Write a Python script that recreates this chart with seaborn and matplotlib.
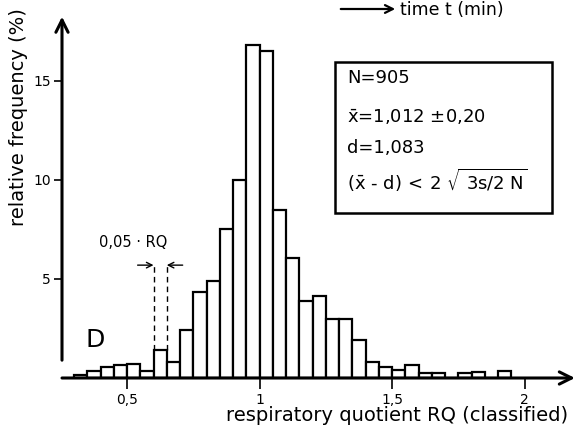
import numpy as np
import pandas as pd
import matplotlib
matplotlib.use("Agg")
import matplotlib.pyplot as plt
from matplotlib.patches import Rectangle, FancyArrowPatch
import seaborn as sns

# respiratory quotient classes (left edge of each 0.05 class) and relative frequency (%)
rq_left = [0.30, 0.35, 0.40, 0.45, 0.50, 0.55, 0.60, 0.65, 0.70, 0.75, 0.80,
           0.85, 0.90, 0.95, 1.00, 1.05, 1.10, 1.15, 1.20, 1.25, 1.30, 1.35,
           1.40, 1.45, 1.50, 1.55, 1.60, 1.65, 1.70, 1.75, 1.80, 1.85, 1.90]
rel_freq = [0.15, 0.35, 0.55, 0.68, 0.73, 0.35, 1.39, 0.80, 2.44, 4.35, 4.90,
            7.50, 10.0, 16.8, 16.5, 8.50, 6.04, 3.87, 4.16, 3.00, 3.00, 1.93,
            0.83, 0.54, 0.40, 0.66, 0.27, 0.24, 0.00, 0.27, 0.32, 0.00, 0.37]
class_width = 0.05

x_ticks = [0.5, 1, 1.5, 2]
x_ticklabels = ["0,5", "1", "1,5", "2"]
y_ticks = [5, 10, 15]
y_ticklabels = ["5", "10", "15"]

stats_lines = ["N=905",
               r"$\bar{\mathrm{x}}$=1,012 $\pm$0,20",
               "d=1,083",
               r"$(\bar{\mathrm{x}}$ - d$)\,<\,2\ \sqrt{\mathrm{\ 3s/2\ N}}$"]

df = pd.DataFrame({"rq": np.array(rq_left) + class_width / 2, "freq": rel_freq})
edges = [round(v, 2) for v in rq_left] + [round(rq_left[-1] + class_width, 2)]

sns.set_style("white")
plt.rcParams["font.family"] = ["DejaVu Sans"]
plt.rcParams["mathtext.default"] = "regular"
plt.rcParams["text.color"] = "black"
plt.rcParams["axes.labelcolor"] = "black"
plt.rcParams["xtick.color"] = "black"
plt.rcParams["ytick.color"] = "black"

fig = plt.figure(figsize=(5.76, 4.33), dpi=100)
ax = fig.add_axes([62 / 576, 55 / 433, 514 / 576, 378 / 433])

sns.histplot(data=df, x="rq", weights="freq", bins=edges, stat="count",
             color="white", edgecolor="black", linewidth=1.6, alpha=1, ax=ax)

ax.set_xlim(0.2547, 2.194)
ax.set_ylim(0, 19.09)
for s in ax.spines.values():
    s.set_visible(False)

# axes with open arrow heads
ax.annotate("", xy=(2.19, 0), xytext=(0.2547, 0), xycoords="data",
            arrowprops=dict(arrowstyle="->", lw=2.2, color="black",
                            mutation_scale=22, shrinkA=0, shrinkB=0),
            annotation_clip=False)
ax.annotate("", xy=(0.2547, 18.25), xytext=(0.2547, 0.9),
            arrowprops=dict(arrowstyle="->", lw=2.2, color="black",
                            mutation_scale=22, shrinkA=0, shrinkB=0),
            annotation_clip=False)

ax.set_xticks(x_ticks)
ax.set_xticklabels(x_ticklabels, fontsize=10)
ax.set_yticks(y_ticks)
ax.set_yticklabels(y_ticklabels, fontsize=10)
ax.tick_params(axis="x", direction="out", length=8, width=1.2, pad=3, bottom=True)
ax.tick_params(axis="y", direction="out", length=6, width=1.2, pad=2, left=True)

ax.set_xlabel("respiratory quotient RQ (classified)", fontsize=14)
ax.xaxis.set_label_coords(0.652, -0.075)
ax.set_ylabel("relative frequency (%)", fontsize=14)
ax.yaxis.set_label_coords(-0.066, 0.69)

# class width marker
i6 = rq_left.index(0.60)
x_a, x_b = rq_left[i6], rq_left[i6] + class_width
top = rel_freq[i6]
for xv in (x_a, x_b):
    ax.plot([xv, xv], [top, 5.7], ls=(0, (4, 3)), color="black", lw=1)
ax.annotate("", xy=(x_a, 5.7), xytext=(x_a - 0.06, 5.7),
            arrowprops=dict(arrowstyle="->", lw=1, color="black", shrinkA=0, shrinkB=0))
ax.annotate("", xy=(x_b, 5.7), xytext=(x_b + 0.06, 5.7),
            arrowprops=dict(arrowstyle="->", lw=1, color="black", shrinkA=0, shrinkB=0))
ax.text(0.525, 6.85, "0,05 · RQ", fontsize=10.5, ha="center", va="center")

ax.text(0.38, 1.92, "D", fontsize=18, ha="center", va="center")

# statistics box
ax.add_patch(Rectangle((1.285, 8.33), 2.104 - 1.285, 15.96 - 8.33,
                       fill=False, edgecolor="black", lw=1.8))
for line, yv in zip(stats_lines, [15.15, 13.18, 11.62, 10.0]):
    ax.text(1.33, yv, line, fontsize=13, ha="left", va="center")

# header fragment at the top right
fig.patches.append(FancyArrowPatch(
    (338 / 576, 1 - 9 / 433), (398 / 576, 1 - 9 / 433), transform=fig.transFigure,
    arrowstyle="->", mutation_scale=14, lw=1.6, color="black"))
fig.text(400 / 576, 1 - 10 / 433, "time t (min)", fontsize=12.5, ha="left", va="center")

fig.savefig("out.png", dpi=100)
